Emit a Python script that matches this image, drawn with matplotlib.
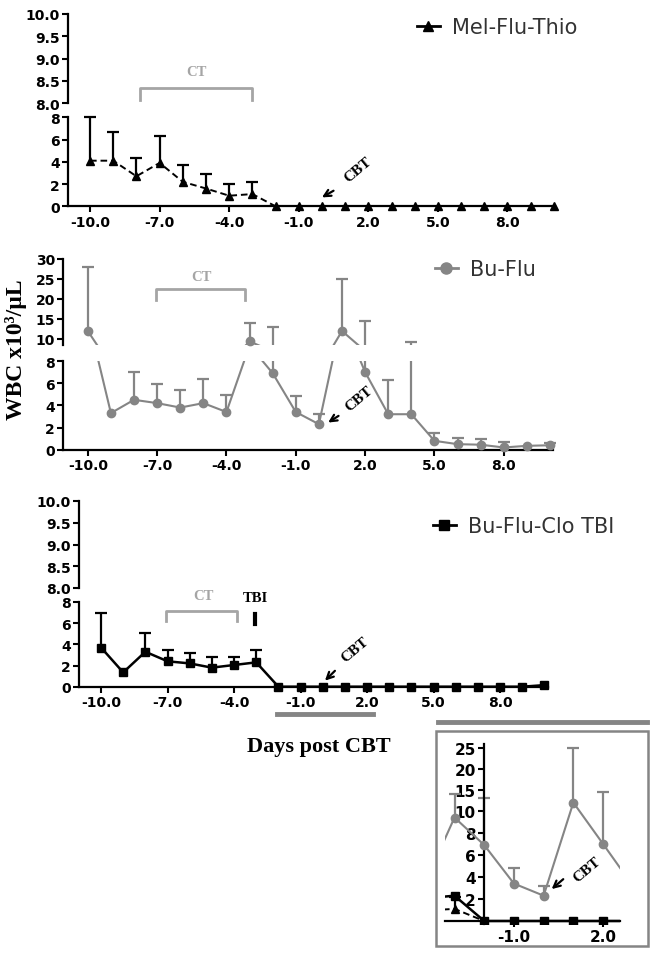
import numpy as np
import matplotlib
matplotlib.use('Agg')
import matplotlib.pyplot as plt
from matplotlib.lines import Line2D
from matplotlib.patches import Rectangle

plt.rcParams['axes.unicode_minus'] = False

#days relative to cord blood transplant
days = np.arange(-10, 11)

#Mel-Flu-Thio: mean and top of error bar
mft_mean = [4.1, 4.1, 2.7, 3.9, 2.2, 1.6, 0.95, 1.1, 0, 0, 0, 0, 0, 0, 0, 0, 0, 0, 0, 0, 0]
mft_top = [8.0, 6.7, 4.3, 6.3, 3.7, 2.9, 2.0, 2.2, 0, 0, 0, 0, 0, 0, 0, 0, 0, 0, 0, 0, 0]

#Bu-Flu
bf_mean = [12.0, 3.3, 4.5, 4.2, 3.8, 4.2, 3.4, 9.4, 6.9, 3.4, 2.3, 12.0, 7.0, 3.2, 3.2, 0.8, 0.5, 0.45, 0.2, 0.35, 0.4]
bf_top = [28.0, 3.3, 7.0, 5.9, 5.4, 6.4, 4.9, 14.0, 13.0, 4.8, 3.2, 25.0, 14.5, 6.3, 9.2, 1.55, 1.05, 0.95, 0.65, 0.35, 0.6]

#Bu-Flu-Clo TBI
bfc_mean = [3.7, 1.35, 3.3, 2.4, 2.2, 1.8, 2.05, 2.3, 0, 0, 0, 0, 0, 0, 0, 0, 0, 0, 0, 0, 0.15]
bfc_top = [7.0, 1.35, 5.1, 3.5, 3.2, 2.8, 2.85, 3.5, 0, 0, 0, 0, 0, 0, 0, 0, 0, 0, 0, 0, 0.15]

xticks = [-10, -7, -4, -1, 2, 5, 8]
xlabels = ['-10.0', '-7.0', '-4.0', '-1.0', '2.0', '5.0', '8.0']

W, H = 658, 962
fig = plt.figure(figsize=(W / 100, H / 100), dpi=100)

GRAY = '#858585'
LIGHT = '#a5a5a5'


def rect(left, right, top, bottom):
    #pixel box -> figure fraction
    return [left / W, 1 - bottom / H, (right - left) / W, (bottom - top) / H]


def style(ax):
    for s in ['top', 'right']:
        ax.spines[s].set_visible(False)
    for s in ['left', 'bottom']:
        ax.spines[s].set_linewidth(1.6)
    ax.tick_params(direction='out', length=4, width=1.5, labelsize=10, pad=2)


def draw(ax, mean, top, color, marker, ms, lw, ls='-', lo=None, hi=None, bars=True):
    x = days
    mean = np.array(mean)
    top = np.array(top)
    if lo is None:
        lo, hi = ax.get_ylim()
    line = ax.plot(x, mean, color=color, lw=lw, ls=ls, zorder=3)[0]
    if ls == '--':
        line.set_dashes((3.4, 2.0))
    inside = (mean >= lo - 0.01) & (mean <= hi)
    ax.plot(x[inside], mean[inside], ls='none', marker=marker, ms=ms, color=color,
            clip_on=False, zorder=4)
    if bars:
        has = top > mean + 0.05
        ax.vlines(x[has], mean[has], top[has], color=color, lw=1.6, zorder=2)
        cap = has & (top >= lo) & (top <= hi)
        ax.plot(x[cap], top[cap], ls='none', marker='_', ms=8, mew=1.6, color=color,
                clip_on=False, zorder=2)


def broken_panel(xl, xr, up_box, low_box, xlim, up_lim, up_ticks, up_fmt):
    ax_up = fig.add_axes(rect(xl, xr, up_box[0], up_box[1]))
    ax_lo = fig.add_axes(rect(xl, xr, low_box[0], low_box[1]))
    for ax in (ax_up, ax_lo):
        style(ax)
        ax.set_xlim(*xlim)
        ax.patch.set_alpha(0)
    ax_up.spines['bottom'].set_visible(False)
    ax_up.set_xticks([])
    ax_up.set_ylim(*up_lim)
    ax_up.set_yticks(up_ticks, [up_fmt % t for t in up_ticks], fontweight='bold')
    ax_lo.set_ylim(0, 8)
    ax_lo.set_yticks([0, 2, 4, 6, 8], ['0', '2', '4', '6', '8'], fontweight='bold')
    ax_lo.set_xticks(xticks, xlabels, fontweight='bold')
    return ax_up, ax_lo


def cbt(ax, tip, tail, txt, size=11):
    ax.annotate('', xy=tip, xytext=tail,
                arrowprops=dict(arrowstyle='->', lw=1.6, color='black',
                                shrinkA=0, shrinkB=0, mutation_scale=12))
    ax.text(txt[0], txt[1], 'CBT', rotation=40, ha='center', va='center',
            family='Liberation Serif', fontweight='bold', fontsize=size)


def bracket(ax, x0, x1, ytop, yend, tx, ty):
    ax.plot([x0, x0, x1, x1], [yend, ytop, ytop, yend], color=LIGHT, lw=2, clip_on=False)
    ax.text(tx, ty, 'CT', ha='center', va='center', color=LIGHT,
            family='Liberation Serif', fontweight='bold', fontsize=10.5)


#panel 1 Mel-Flu-Thio
up1, lo1 = broken_panel(68, 555, (15, 104), (118.3, 207.3), (-10.95, 10.05), (8, 10),
                        [8.0, 8.5, 9.0, 9.5, 10.0], '%.1f')
draw(lo1, mft_mean, mft_top, 'black', '^', 5.5, 1.4, ls='--')
bracket(up1, -7.85, -3.0, 8.34, 8.07, -5.4, 8.7)
cbt(lo1, (0.0, 0.8), (0.5, 1.4), (1.55, 3.3))

#panel 2 Bu-Flu
up2, lo2 = broken_panel(63.3, 553, (260, 346), (362, 450.7), (-11.06, 10.13), (8.5, 30),
                        [10, 15, 20, 25, 30], '%d')
draw(up2, bf_mean, bf_top, GRAY, 'o', 6, 1.5)
draw(lo2, bf_mean, bf_top, GRAY, 'o', 6, 1.5)
bracket(up2, -7.05, -3.2, 22.5, 19.75, -5.1, 25.6)
cbt(lo2, (0.4, 2.45), (0.85, 3.05), (1.75, 4.6))

#panel 3 Bu-Flu-Clo TBI
up3, lo3 = broken_panel(79.3, 548, (502, 589), (603, 687.7), (-10.98, 10.16), (8, 10),
                        [8.0, 8.5, 9.0, 9.5, 10.0], '%.1f')
draw(lo3, bfc_mean, bfc_top, 'black', 's', 5.5, 1.8)
bracket(lo3, -7.08, -3.85, 7.15, 6.25, -5.4, 8.65)
lo3.text(-3.05, 8.46, 'TBI', ha='center', va='center', family='Liberation Serif',
         fontweight='bold', fontsize=10.5, clip_on=False)
lo3.plot([-3.05, -3.05], [5.9, 6.86], color='black', lw=3)
cbt(lo3, (0.1, 0.57), (0.55, 1.5), (1.46, 3.56))

#legends
for ax, label, marker, ms, col, ls, xpx, ypx in [
        (up1, 'Mel-Flu-Thio', '^', 7, 'black', '-', 417, 28),
        (up2, 'Bu-Flu', 'o', 8, GRAY, '-', 435, 270),
        (up3, 'Bu-Flu-Clo TBI', 's', 7, 'black', '-', 433, 527)]:
    h = Line2D([], [], color=col, marker=marker, ms=ms, lw=2, ls=ls)
    leg = ax.legend([h], [label], loc='center left', bbox_to_anchor=(xpx / W, 1 - ypx / H),
                    bbox_transform=fig.transFigure, frameon=False, borderpad=0,
                    borderaxespad=0, handlelength=1.1, handletextpad=0.6,
                    prop={'family': 'DejaVu Sans', 'size': 15})
    leg.get_texts()[0].set_color('#333333')

#axis labels
fig.text(16 / W, 1 - 350 / H, 'WBC x10³/µL', rotation=90, ha='center', va='center',
         family='Liberation Serif', fontweight='bold', fontsize=17)
fig.text(319 / W, 1 - 747 / H, 'Days post CBT', ha='center', va='center',
         family='Liberation Serif', fontweight='bold', fontsize=16)

#gray bars marking the zoomed window
fig.add_artist(Line2D([276.7 / W, 373.3 / W], [1 - 715 / H] * 2, color=GRAY, lw=3.5))
fig.add_artist(Line2D([438 / W, 646.7 / W], [1 - 723 / H] * 2, color=GRAY, lw=3.5))
fig.add_artist(Rectangle((436 / W, 1 - 946.7 / H), (647.7 - 436) / W, (946.7 - 731.7) / H,
                         fill=False, ec=GRAY, lw=1.8, transform=fig.transFigure))


#inset with compressed scale above 10
def fwd(y):
    y = np.asarray(y, dtype=float)
    return np.where(y <= 10, y, 10 + (y - 10) * 0.38)


def inv(v):
    v = np.asarray(v, dtype=float)
    return np.where(v <= 10, v, 10 + (v - 10) / 0.38)


ins = fig.add_axes(rect(445, 620, 745, 925.3))
ins.set_yscale('function', functions=(fwd, inv))
ins.set_xlim(-3.32, 2.57)
ins.set_ylim(-0.3, 26)
style(ins)
ins.spines['left'].set_position(('data', -2))
ins.spines['bottom'].set_position(('data', 0))
ins.set_xticks([-1, 2], ['-1.0', '2.0'], fontweight='bold')
ins.set_yticks([2, 4, 6, 8, 10, 15, 20, 25], ['2', '4', '6', '8', '10', '15', '20', '25'],
               fontweight='bold')
ins.tick_params(axis='y', labelsize=11)
ins.tick_params(axis='x', labelsize=11)
ins.yaxis.set_minor_locator(matplotlib.ticker.NullLocator())
draw(ins, bf_mean, bf_top, GRAY, 'o', 6, 1.5, lo=-1, hi=30)
draw(ins, mft_mean, mft_top, 'black', '^', 5.5, 1.4, ls='--', lo=-1, hi=30)
draw(ins, bfc_mean, bfc_top, 'black', 's', 5.5, 1.8, lo=-1, hi=30, bars=False)
for artist in ins.lines + ins.collections:
    artist.set_clip_on(True)
cbt(ins, (0.27, 2.9), (0.66, 3.8), (1.45, 4.7), size=11)

plt.savefig('out.png', dpi=100)
